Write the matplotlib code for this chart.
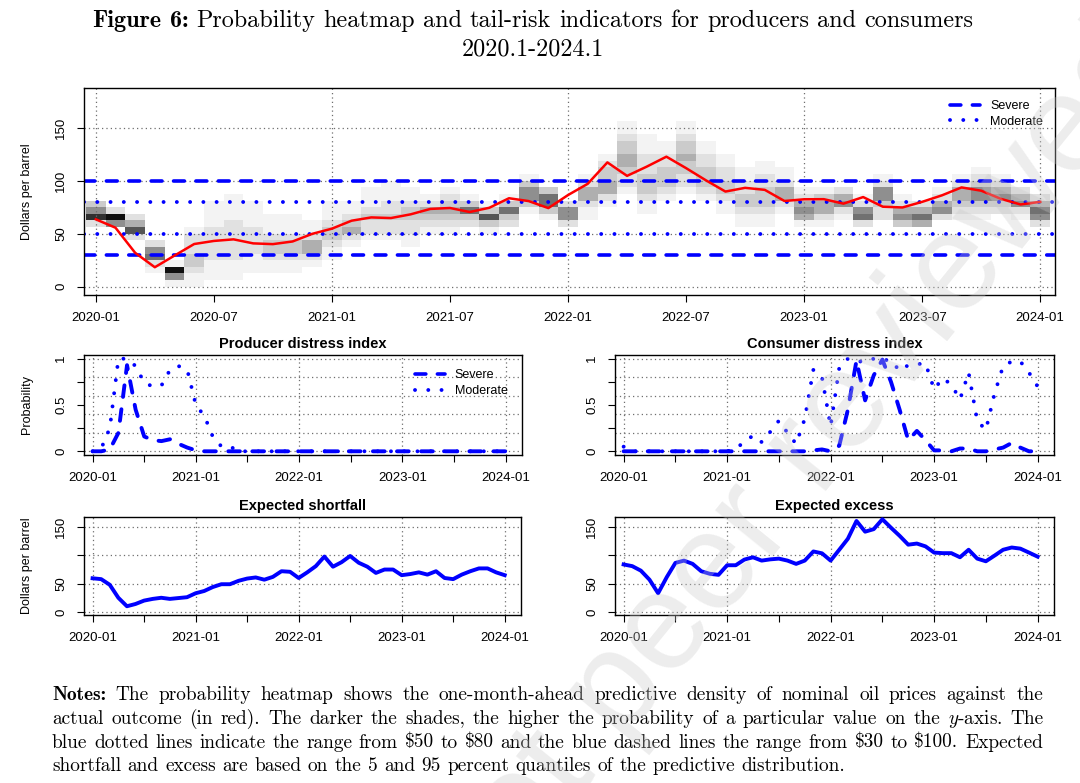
import matplotlib
matplotlib.use("Agg")
import matplotlib.pyplot as plt
import numpy as np
from matplotlib.lines import Line2D

plt.rcParams["mathtext.fontset"] = "cm"
plt.rcParams["font.family"] = ["Liberation Sans", "DejaVu Sans"]

W, H = 1080, 783

# ---------- data ----------
# actual oil price (red line), monthly 2020-01 .. 2024-01
price = [63.6, 55.7, 32.0, 18.4, 29.4, 40.3, 43.2, 44.7, 40.9, 40.2, 42.7, 49.9,
         54.8, 62.3, 65.4, 64.8, 68.3, 73.4, 74.3, 70.5, 74.5, 83.5, 80.8, 74.2,
         86.5, 97.1, 117.3, 104.6, 113.3, 122.7, 111.9, 100.5, 89.8, 93.3, 91.4, 80.9,
         82.5, 82.6, 78.4, 84.6, 75.5, 74.8, 80.1, 86.2, 93.7, 90.6, 82.9, 77.6,
         80.1]

# heatmap: first shaded $6.25 bin per month, then shade level (0-9) of each bin upward
dens_start = [9, 9, 7, 2, 0, 0, 1, 1, 2, 2, 2, 3,
              4, 6, 7, 7, 6, 8, 8, 9, 8, 9, 11, 10,
              9, 10, 12, 14, 11, 13, 14, 13, 11, 9, 9, 11,
              9, 9, 10, 9, 10, 9, 9, 10, 10, 10, 11, 10,
              9]
dens_shades = ["2853", "592", "2742", "12652", "1591", "112332221", "111222221111",
               "1112222221111", "11122221111", "112332111", "112332111", "1244211",
               "112332111", "1243211", "12232111", "122322111", "112233211", "123421",
               "1234321", "23631", "13731", "23631", "135531", "13663",
               "2552", "1124421", "12443321", "12234433211", "112333222111", "123332211",
               "12233433211", "123332211", "112332211", "112332211", "1123332211", "1244211",
               "145421", "124431", "12542", "26521", "2235521", "35421",
               "4642", "25421", "1234421", "12355321", "235421", "12542",
               "25642"]

prod_severe = [0, 0, 0.02, 0.2, 0.93, 0.45, 0.16, 0.12, 0.11, 0.13, 0.08, 0.04,
               0.01, 0, 0, 0, 0, 0, 0, 0, 0, 0, 0, 0,
               0, 0, 0, 0, 0, 0, 0, 0, 0, 0, 0, 0,
               0, 0, 0, 0, 0, 0, 0, 0, 0, 0, 0, 0, 0]
prod_moderate = [0, 0.03, 0.25, 1.0, 1.0, 0.92, 0.74, 0.7, 0.71, 0.88, 0.92, 0.88,
                 0.5, 0.38, 0.15, 0.05, 0.05, 0, 0, 0, 0, 0, 0, 0,
                 0, 0, 0, 0, 0, 0, 0, 0, 0, 0, 0, 0,
                 0, 0, 0, 0, 0, 0, 0, 0, 0, 0, 0, 0, 0]
cons_severe = [0, 0, 0, 0, 0, 0, 0, 0, 0, 0, 0, 0,
               0, 0, 0, 0, 0, 0, 0, 0, 0, 0, 0.01, 0.02,
               0, 0.06, 0.45, 0.98, 0.55, 0.82, 0.99, 0.75, 0.45, 0.12, 0.22, 0.12,
               0.01, 0.01, 0, 0.03, 0.03, 0, 0, 0.02, 0.04, 0.09, 0.04, 0, 0]
cons_moderate = [0.05, 0, 0, 0, 0, 0, 0, 0, 0, 0, 0, 0,
                 0, 0.03, 0.1, 0.17, 0.1, 0.21, 0.33, 0.2, 0.08, 0.35, 0.88, 0.8,
                 0.27, 0.9, 1.0, 0.97, 0.97, 1.0, 0.99, 0.98, 0.87, 0.93, 0.94, 0.95,
                 0.67, 0.79, 0.72, 0.56, 0.85, 0.33, 0.23, 0.62, 0.92, 0.97, 0.97, 0.85, 0.7]

shortfall = [59.5, 58, 48, 25, 10, 14, 20, 23, 25, 23, 24.5, 26,
             33, 37, 44, 49, 49, 55, 59, 61, 57, 62, 72, 71,
             60, 70, 81, 98, 80, 88, 99, 87, 80, 69, 75, 75,
             65, 67, 70, 66, 72, 60, 58, 66, 72, 77, 77, 70, 65]
excess = [84, 81, 73, 57, 33, 61.5, 86.7, 90.8, 85, 72, 67.4, 65.6,
          82.6, 82.6, 92.6, 96.7, 90.8, 93, 94.3, 90.8, 85, 90.8, 107, 103.7,
          90.8, 110, 129.5, 161, 142, 146.5, 164, 149, 134.7, 119, 121, 116,
          105, 104, 104, 96.7, 110, 94.3, 89.6, 99.6, 110, 114, 112, 105, 97.8]

top_ticks = ["2020-01", "2020-07", "2021-01", "2021-07", "2022-01", "2022-07",
             "2023-01", "2023-07", "2024-01"]
year_ticks = ["2020-01", "2021-01", "2022-01", "2023-01", "2024-01"]

notes = [
    "Notes: The probability heatmap shows the one-month-ahead predictive density of nominal oil prices against the",
    "actual outcome (in red). The darker the shades, the higher the probability of a particular value on the $y$-axis. The",
    r"blue dotted lines indicate the range from \$50 to \$80 and the blue dashed lines the range from \$30 to \$100. Expected",
    "shortfall and excess are based on the 5 and 95 percent quantiles of the predictive distribution.",
]

BLUE = "#0000ff"
GRID = "#6e6e6e"
DOT = (0, (0.01, 3.4))
DASH = (0, (3.0, 3.2))

fig = plt.figure(figsize=(10.8, 7.83), dpi=100)
months = np.arange(len(price))


def axes_px(l, t, r, b):
    return fig.add_axes([l / W, 1 - b / H, (r - l) / W, (b - t) / H])


def style(ax, ylim):
    ax.set_ylim(*ylim)
    for s in ax.spines.values():
        s.set_linewidth(1.0)
    ax.tick_params(direction="out", length=5, width=0.8, labelsize=9.5, pad=7)
    for lab in ax.get_yticklabels():
        lab.set_rotation(90)
        lab.set_va("center")


def grid(ax, xs, ys):
    for x in xs:
        ax.axvline(x, color=GRID, lw=0.9, ls=(0, (1, 2.5)), zorder=1)
    for y in ys:
        ax.axhline(y, color=GRID, lw=0.9, ls=(0, (1, 2.5)), zorder=1)


# ---------- heatmap panel ----------
ax = axes_px(84, 88, 1055, 295)
Z = np.zeros((32, len(price)))
for m, (k0, s) in enumerate(zip(dens_start, dens_shades)):
    for j, c in enumerate(s):
        Z[k0 + j, m] = int(c)
ax.pcolormesh(np.arange(len(price) + 1) - 0.5, np.arange(33) * 6.25, Z,
              cmap="Greys", vmin=0, vmax=9.5, shading="flat", zorder=0)
ax.set_xlim(-0.6, 48.75)
grid(ax, [0, 12, 24, 36, 48], [0, 50, 100, 150])
for y in (30, 100):
    ax.axhline(y, color=BLUE, lw=2.6, ls=DASH, dash_capstyle="round", zorder=2)
for y in (50, 80):
    ax.axhline(y, color=BLUE, lw=2.8, ls=DOT, dash_capstyle="round", zorder=2)
ax.plot(months, price, color="#ff0000", lw=1.8, zorder=3)
ax.set_xticks(range(0, 49, 6), top_ticks)
ax.set_yticks([0, 50, 100, 150], ["0", "50", "100", "150"])
style(ax, (-7.8, 187.5))
ax.set_ylabel("Dollars per barrel", fontsize=9)
ax.yaxis.set_label_coords((33 - 84) / 971, 0.5)
handles = [Line2D([], [], color=BLUE, lw=2.6, ls=DASH, dash_capstyle="round"),
           Line2D([], [], color=BLUE, lw=2.8, ls=DOT, dash_capstyle="round")]
ax.legend(handles, ["Severe", "Moderate"], loc="upper right", frameon=False,
          fontsize=9, handlelength=2.4, borderaxespad=0.55, labelspacing=0.3,
          bbox_to_anchor=(1.0, 1.0))


# ---------- lower panels ----------
def lower(rect, title, ylab, kind):
    ax = axes_px(*rect)
    ax.set_xlim(-1.0, 49.9)
    ax.set_xticks(range(0, 49, 6),
                  [year_ticks[i // 12] if i % 12 == 0 else "" for i in range(0, 49, 6)])
    if kind == "prob":
        grid(ax, [0, 12, 24, 36, 48], [0, 0.2, 0.4, 0.6, 0.8, 1.0])
        ax.set_yticks([0, 0.25, 0.5, 0.75, 1], ["0", "", "0.5", "", "1"])
        style(ax, (-0.04, 1.04))
    else:
        grid(ax, [0, 12, 24, 36, 48], [0, 50, 100, 150])
        ax.set_yticks([0, 50, 100, 150], ["0", "50", "", "150"])
        style(ax, (-5.5, 168))
    ax.set_title(title, fontsize=10.5, fontweight="bold", pad=5)
    if ylab:
        ax.set_ylabel(ylab, fontsize=9)
        ax.yaxis.set_label_coords((33 - rect[0]) / (rect[2] - rect[0]), 0.5)
    return ax


axp = lower((84, 355, 522, 455), "Producer distress index", "Probability", "prob")
axp.plot(months, prod_severe, color=BLUE, lw=2.8, ls=DASH, dash_capstyle="round", zorder=3)
axp.plot(months, prod_moderate, color=BLUE, lw=2.8, ls=DOT, dash_capstyle="round", zorder=3)
axp.legend(handles, ["Severe", "Moderate"], loc="upper right", frameon=False,
           fontsize=9, handlelength=2.4, borderaxespad=0.75, labelspacing=0.3)

axc = lower((615, 355, 1054, 455), "Consumer distress index", None, "prob")
axc.plot(months, cons_severe, color=BLUE, lw=2.8, ls=DASH, dash_capstyle="round", zorder=3)
axc.plot(months, cons_moderate, color=BLUE, lw=2.8, ls=DOT, dash_capstyle="round", zorder=3)

axs = lower((84, 517, 521, 615), "Expected shortfall", "Dollars per barrel", "usd")
axs.plot(months, shortfall, color=BLUE, lw=2.8, zorder=3, solid_joinstyle="round")

axe = lower((615, 517, 1054, 615), "Expected excess", None, "usd")
axe.plot(months, excess, color=BLUE, lw=2.8, zorder=3, solid_joinstyle="round")

# ---------- title and notes (LaTeX-like serif) ----------
renderer = fig.canvas.get_renderer()


def words_line(words, y, size, left=None, right=None, center=None):
    texts = []
    for w, fam in words:
        texts.append(fig.text(0, 1 - y / H, w, family=fam, fontsize=size,
                              va="baseline", ha="left"))
    widths = [t.get_window_extent(renderer).width for t in texts]
    space = 0.333 * size * 100 / 72
    if left is not None and right is not None:
        gap = (right - left - sum(widths)) / (len(texts) - 1)
        x = left
    elif center is not None:
        gap = space
        x = center - (sum(widths) + gap * (len(texts) - 1)) / 2
    else:
        gap = space
        x = left
    for t, w in zip(texts, widths):
        t.set_x(x / W)
        x += w + gap


title_words = [("Figure", "cmb10"), ("6:", "cmb10")] + [
    (w, "cmr10") for w in
    "Probability heatmap and tail-risk indicators for producers and consumers".split()]
words_line(title_words, 27, 17.4, center=533)
words_line([("2020.1-2024.1", "cmr10")], 56, 17.4, center=533)

for i, line in enumerate(notes):
    ws = line.split(" ")
    words = [(w, "cmb10" if (i == 0 and j == 0) else "cmr10") for j, w in enumerate(ws)]
    y = 700.5 + i * 23.5
    if i < len(notes) - 1:
        words_line(words, y, 13.9, left=52, right=1043)
    else:
        words_line(words, y, 13.9, left=52)

# watermark
fig.text(1092 / W, 1 - 2 / H, "Preprint not peer reviewed", fontsize=100,
         color="#c8c8c8", alpha=0.33, rotation=51, rotation_mode="anchor",
         ha="right", va="top", zorder=20)

fig.savefig("out.png", dpi=100)
